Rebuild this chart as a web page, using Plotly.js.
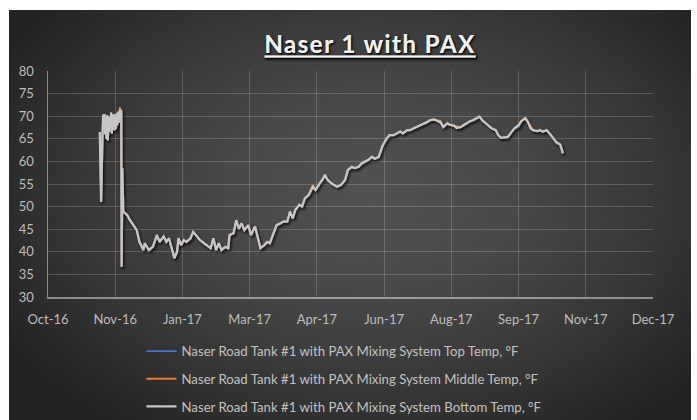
<!DOCTYPE html>
<html>
<head>
<meta charset="utf-8">
<script src="https://cdn.plot.ly/plotly-3.0.1.min.js"></script>
<style>
  html, body { margin: 0; padding: 0; background: #ffffff; }
  #wrap { position: relative; width: 697px; height: 420px; background: #ffffff; overflow: hidden; }
  #bg { position: absolute; left: 9px; top: 10px; width: 682px; height: 410px;
        background: radial-gradient(ellipse 62% 70% at 53% 45%, #525252 0%, #484848 35%, #363636 70%, #232323 100%); }
  #chart { position: absolute; left: 0; top: 0; width: 697px; height: 420px; }
  .gtitle { letter-spacing: 1.5px; }
</style>
</head>
<body>
<div id="wrap"><div id="bg"></div><div id="chart"></div></div>
<script>
// ---- data ----
const seriesNames = [
  'Naser Road Tank #1 with PAX Mixing System Top Temp, °F',
  'Naser Road Tank #1 with PAX Mixing System Middle Temp, °F',
  'Naser Road Tank #1 with PAX Mixing System Bottom Temp, °F'
];

const dates = [
  '2016-11-13 12:00','2016-11-14 00:00','2016-11-14 12:00','2016-11-15 12:00','2016-11-16 00:00',
  '2016-11-16 12:00','2016-11-17 00:00','2016-11-17 12:00','2016-11-18 00:00','2016-11-18 12:00',
  '2016-11-19 00:00','2016-11-19 12:00','2016-11-20 00:00','2016-11-20 12:00','2016-11-21 00:00',
  '2016-11-21 12:00','2016-11-22 00:00','2016-11-22 12:00','2016-11-23 00:00','2016-11-23 12:00',
  '2016-11-24 00:00','2016-11-24 12:00','2016-11-25 00:00','2016-11-25 12:00','2016-11-26 00:00',
  '2016-11-26 12:00','2016-11-27 00:00','2016-11-27 12:00','2016-11-28 00:00','2016-11-28 12:00',
  '2016-11-29 00:00','2016-11-29 12:00','2016-11-29 19:00','2016-11-30 07:00','2016-12-01 00:00',
  '2016-12-04','2016-12-06','2016-12-09','2016-12-11','2016-12-13','2016-12-16','2016-12-17','2016-12-20','2016-12-23','2016-12-26',
  '2016-12-28','2016-12-31','2017-01-02','2017-01-04','2017-01-06','2017-01-08','2017-01-10','2017-01-11','2017-01-13','2017-01-15',
  '2017-01-17','2017-01-20','2017-01-22','2017-01-25','2017-01-27','2017-01-30','2017-02-01','2017-02-04','2017-02-06','2017-02-08',
  '2017-02-10','2017-02-12','2017-02-15','2017-02-17','2017-02-18','2017-02-21','2017-02-23','2017-02-25','2017-02-27','2017-03-01',
  '2017-03-04','2017-03-06','2017-03-09','2017-03-11','2017-03-13','2017-03-16','2017-03-18','2017-03-20','2017-03-23','2017-03-25',
  '2017-03-28','2017-03-30','2017-04-02','2017-04-04','2017-04-06','2017-04-08','2017-04-11','2017-04-13','2017-04-15','2017-04-18',
  '2017-04-21','2017-04-23','2017-04-26','2017-04-28','2017-04-30','2017-05-02','2017-05-05','2017-05-09','2017-05-12','2017-05-15',
  '2017-05-17','2017-05-20','2017-05-22','2017-05-25','2017-05-27','2017-05-30','2017-06-01','2017-06-04','2017-06-06','2017-06-09',
  '2017-06-10','2017-06-12','2017-06-15','2017-06-17','2017-06-20','2017-06-22','2017-06-25','2017-06-27','2017-06-30','2017-07-02',
  '2017-07-05','2017-07-07','2017-07-10','2017-07-12','2017-07-15','2017-07-17','2017-07-20','2017-07-22','2017-07-25','2017-07-27',
  '2017-07-30','2017-08-01','2017-08-04','2017-08-06','2017-08-09','2017-08-11','2017-08-13','2017-08-16','2017-08-18','2017-08-21',
  '2017-08-23','2017-08-25','2017-08-27','2017-08-30','2017-09-01','2017-09-04','2017-09-06','2017-09-08','2017-09-11','2017-09-13',
  '2017-09-16','2017-09-18','2017-09-21','2017-09-23','2017-09-26','2017-09-28','2017-09-30','2017-10-02','2017-10-05','2017-10-07',
  '2017-10-09','2017-10-12','2017-10-14','2017-10-17','2017-10-19','2017-10-22','2017-10-24'
];

const bottomTemp = [
  66.5,58,51,65.5,70.3,
  67,70.5,66,69.8,65,
  70.2,64.7,70,66.5,69.5,
  67.5,70.8,66.2,70.2,67.8,
  70.5,66.9,69.9,67.2,70.6,
  68,71,68.5,70.4,71.5,
  69,71.2,36.7,58.5,48.9,
  48.1,47.0,45.6,44.8,42.2,40.4,41.9,40.4,41.1,43.7,
  42.2,43.4,42.2,43.0,40.8,38.6,40.0,43.0,41.5,42.6,
  42.2,43.0,44.4,43.4,42.6,41.9,41.5,40.8,43.0,40.4,
  41.9,40.4,41.1,40.8,43.7,44.1,47.0,45.1,46.3,44.8,
  45.9,43.7,45.6,43.0,40.8,41.5,42.2,41.9,44.1,45.9,
  46.3,46.7,46.7,48.9,47.4,49.3,50.4,50.0,51.8,52.6,
  54.4,53.7,55.1,55.9,57.0,55.9,55.1,54.4,54.8,55.9,
  58.1,58.8,58.5,58.8,59.5,59.9,60.3,61.0,60.6,61.0,
  61.8,63.6,65.1,65.8,65.8,66.2,66.6,66.2,66.9,66.9,
  67.3,67.6,68.0,68.4,68.7,69.1,69.3,69.1,68.6,67.6,
  68.4,68.1,67.9,67.4,67.6,68.0,68.4,68.9,69.1,69.6,
  69.9,69.1,68.6,68.0,67.3,66.9,65.8,65.2,65.4,65.4,
  66.6,67.3,68.0,68.9,69.6,68.7,67.3,66.9,66.7,66.9,
  66.6,66.9,66.2,65.1,64.3,63.7,61.8
];

const middleTemp = [
  66.5,55,51,65.5,70.3,
  67,70.5,66,69.8,65,
  70.2,64.7,70,66.5,69.5,
  67.5,70.8,66.2,70.2,67.8,
  70.5,66.9,69.9,67.2,70.6,
  68,71,68.5,70.4,72.0,
  69,71.6,36.7,54.4,48.9,
  48.1,47.0,45.6,44.8,42.2,40.4,41.9,40.4,41.1,43.7,
  42.2,43.4,42.2,43.0,40.8,38.6,40.0,43.0,41.5,42.6,
  42.2,43.0,44.4,43.4,42.6,41.9,41.5,40.8,43.0,40.4,
  41.9,40.4,41.1,40.8,43.7,44.1,47.0,45.1,46.3,44.8,
  45.9,43.7,45.6,43.0,40.8,41.5,42.2,41.9,44.1,45.9,
  46.3,46.7,46.7,48.9,47.4,49.3,50.4,50.0,51.8,52.6,
  54.8,53.7,55.1,55.9,57.0,55.9,55.1,54.4,54.8,55.9,
  58.1,58.8,58.5,58.8,59.5,59.9,60.3,61.0,60.6,61.0,
  61.8,63.6,65.1,65.8,65.8,66.2,66.6,66.2,66.9,66.9,
  67.3,67.6,68.0,68.4,68.7,69.1,69.3,69.1,69.0,67.6,
  68.4,68.1,67.9,67.8,67.6,68.0,68.4,68.9,69.1,69.6,
  69.9,69.1,68.6,68.0,67.3,66.9,65.8,65.2,65.4,65.4,
  66.6,67.3,68.0,68.9,69.6,68.7,67.7,66.9,66.7,66.9,
  66.6,66.9,66.2,65.1,64.3,63.7,61.8
];

const topTemp = [
  66.5,58,51,65.5,70.3,
  67,70.5,66,69.8,65,
  70.2,64.7,70,66.5,69.5,
  67.5,70.8,66.2,70.2,67.8,
  70.5,66.9,69.9,67.2,70.6,
  68,71,68.5,70.4,71.5,
  69,71.2,36.7,58.5,48.9,
  48.1,47.0,45.6,44.8,42.2,40.4,41.9,40.4,41.1,43.7,
  42.2,43.4,42.2,43.0,40.8,38.6,40.0,43.0,41.5,42.6,
  42.2,43.0,44.4,43.4,42.6,41.9,41.5,40.8,43.0,40.4,
  41.9,40.4,41.1,40.8,43.7,44.1,47.0,45.1,46.3,44.8,
  45.5,43.7,45.6,43.0,40.8,41.5,42.2,41.9,44.1,45.9,
  46.3,46.7,46.7,48.9,47.4,49.3,50.4,50.0,51.8,52.6,
  54.4,53.7,55.1,55.9,57.0,55.9,55.1,54.4,54.8,55.9,
  58.1,58.8,58.5,58.8,59.5,59.9,60.3,61.0,60.6,61.0,
  61.8,63.6,65.1,65.8,65.8,66.2,66.6,66.2,66.9,66.9,
  67.3,67.6,68.0,68.4,68.7,69.1,69.3,69.1,68.6,67.6,
  68.4,68.1,67.9,67.4,67.6,68.0,68.4,68.9,69.1,69.6,
  69.9,69.1,68.6,68.0,67.3,66.9,65.8,65.2,65.4,65.4,
  66.6,67.3,67.6,68.9,69.6,68.7,67.3,66.9,66.7,66.9,
  66.6,66.9,66.2,65.1,64.0,63.7,61.8
];

const xRange = ['2016-10-06', '2017-12-30'];
const xTick0 = '2016-10-06';
const xTickDays = 50;
const yRange = [30, 80];
const yStep = 5;

// ---- chart ----
const DAY = 86400000;
const lineColors = ['#4472c4', '#ed7d31', '#c6c6c6'];
const lineWidths = [1.8, 1.8, 2.2];
const values = [topTemp, middleTemp, bottomTemp];

const traces = values.map((v, i) => ({
  type: 'scatter',
  mode: 'lines',
  x: dates,
  y: v,
  name: seriesNames[i],
  legendgroup: 'g' + i,
  line: { color: lineColors[i], width: lineWidths[i] },
  hoverinfo: 'skip'
}));

const tickFont = { family: 'Lato, "Open Sans", sans-serif', size: 13, color: '#bdbdbd' };
const gridColor = 'rgba(255,255,255,0.18)';
const axisLine = 'rgba(255,255,255,0.45)';

const layout = {
  width: 697,
  height: 420,
  paper_bgcolor: 'rgba(0,0,0,0)',
  plot_bgcolor: 'rgba(0,0,0,0)',
  margin: { l: 48, r: 44, t: 71, b: 123, autoexpand: false },
  title: {
    text: 'Naser 1 with PAX',
    font: { family: 'Lato, "Open Sans", sans-serif', size: 24, weight: 700, color: '#f2f2f2',
            lineposition: 'under', shadow: '1px 1px 2px rgba(0,0,0,0.8)' },
    xref: 'container', x: 0.531, xanchor: 'center',
    yref: 'container', y: 0.893, yanchor: 'middle'
  },
  xaxis: {
    type: 'date',
    range: xRange,
    tick0: xTick0,
    dtick: xTickDays * DAY,
    tickformat: '%b-%y',
    tickangle: 0,
    showgrid: true, gridcolor: gridColor, gridwidth: 1,
    showline: true, linecolor: axisLine, linewidth: 1.5,
    ticks: '',
    ticklabelstandoff: 10,
    tickfont: tickFont,
    zeroline: false,
    automargin: false,
    fixedrange: true
  },
  yaxis: {
    range: yRange,
    tick0: 30,
    dtick: yStep,
    showgrid: true, gridcolor: gridColor, gridwidth: 1,
    showline: true, linecolor: axisLine, linewidth: 1.5,
    ticks: '',
    ticklabelstandoff: 10,
    tickfont: tickFont,
    zeroline: false,
    automargin: false,
    fixedrange: true
  },
  showlegend: true,
  legend: {
    orientation: 'v',
    xref: 'container', x: 0.203, xanchor: 'left',
    yref: 'container', y: 0.2, yanchor: 'top',
    bgcolor: 'rgba(0,0,0,0)',
    font: { family: 'Lato, "Open Sans", sans-serif', size: 13.2, color: '#c2c2c2' },
    tracegroupgap: 7.5,
    traceorder: 'grouped',
    itemclick: false, itemdoubleclick: false
  }
};

Plotly.newPlot('chart', traces, layout, { displayModeBar: false, staticPlot: true }).then(gd => {
  const svg = gd.querySelector('svg.main-svg');
  const NS = 'http://www.w3.org/2000/svg';
  let defs = svg.querySelector('defs');
  if (!defs) { defs = document.createElementNS(NS, 'defs'); svg.insertBefore(defs, svg.firstChild); }
  const f = document.createElementNS(NS, 'filter');
  f.setAttribute('id', 'lineShadow');
  f.setAttribute('x', '-10%'); f.setAttribute('y', '-10%');
  f.setAttribute('width', '120%'); f.setAttribute('height', '130%');
  const ds = document.createElementNS(NS, 'feDropShadow');
  ds.setAttribute('dx', '1.5'); ds.setAttribute('dy', '2');
  ds.setAttribute('stdDeviation', '1.3');
  ds.setAttribute('flood-color', '#000'); ds.setAttribute('flood-opacity', '0.75');
  f.appendChild(ds);
  defs.appendChild(f);
  const layer = gd.querySelector('.scatterlayer');
  if (layer) layer.setAttribute('filter', 'url(#lineShadow)');
});
</script>
</body>
</html>
